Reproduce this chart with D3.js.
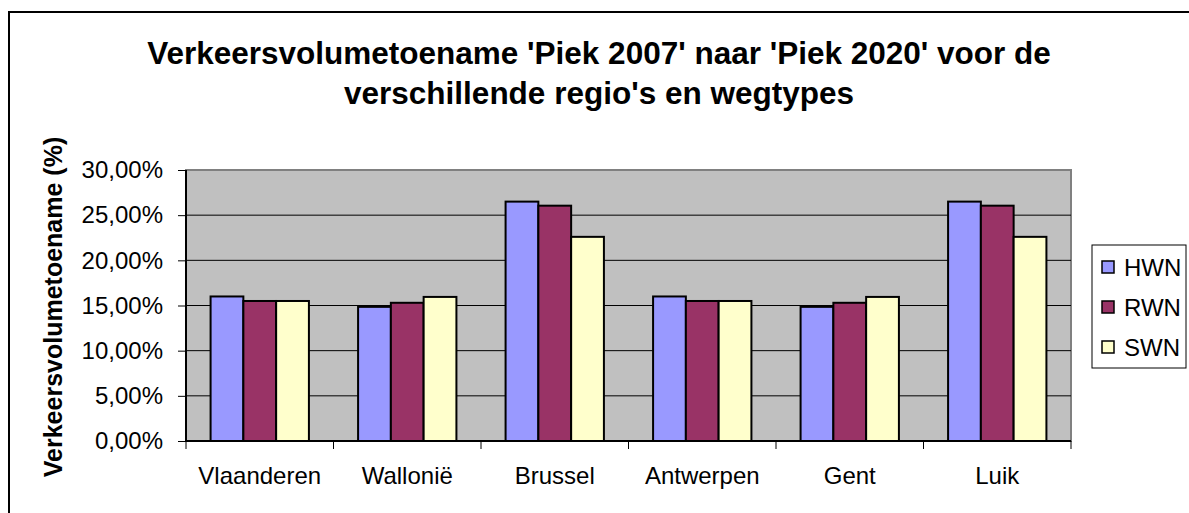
<!DOCTYPE html>
<html><head><meta charset="utf-8">
<script src="https://cdn.jsdelivr.net/npm/d3@7"></script>
<style>
html,body{margin:0;padding:0;background:#fff;}
svg{display:block;font-family:"Liberation Sans",Arial,sans-serif;}
</style></head>
<body>
<svg id="c" width="1189" height="513"></svg>
<script>
const categories = ["Vlaanderen","Wallonië","Brussel","Antwerpen","Gent","Luik"];
const seriesNames = ["HWN","RWN","SWN"];
const HWN = [16.0, 14.85, 26.5, 16.0, 14.85, 26.5];
const RWN = [15.5, 15.3, 26.05, 15.5, 15.3, 26.05];
const SWN = [15.5, 15.95, 22.6, 15.5, 15.95, 22.6];
const yTicks = [0,5,10,15,20,25,30];
const yTickLabels = ["0,00%","5,00%","10,00%","15,00%","20,00%","25,00%","30,00%"];
const colors = ["#9999FF","#993366","#FFFFCC"];
const titleLines = ["Verkeersvolumetoename 'Piek 2007' naar 'Piek 2020' voor de","verschillende regio's en wegtypes"];
const yTitle = "Verkeersvolumetoename (%)";

const seriesValues = [HWN,RWN,SWN];
const svg = d3.select("#c");

// chart area border
svg.append("rect").attr("x",9).attr("y",12).attr("width",1200).attr("height",520)
  .attr("fill","#fff").attr("stroke","#000").attr("stroke-width",2);

const L=186, R=1071, T=170, B=441;
const x = d3.scaleBand().domain(categories).range([L,R]).padding(0);
const xs = d3.scaleBand().domain(seriesNames).range([0,x.bandwidth()]).paddingInner(0).paddingOuter(0.75);
const y = d3.scaleLinear().domain([0,30]).range([B,T]);

// plot bg
svg.append("rect").attr("x",L).attr("y",T).attr("width",R-L).attr("height",B-T)
  .attr("fill","#C0C0C0").attr("stroke","#808080").attr("stroke-width",2);

// gridlines
svg.append("g").selectAll("line").data(yTicks.filter(d=>d>0&&d<30)).join("line")
  .attr("x1",L).attr("x2",R).attr("y1",d=>y(d)).attr("y2",d=>y(d))
  .attr("stroke","#000").attr("stroke-width",1);

// bars
const g = svg.append("g");
categories.forEach((c,i)=>{
  seriesNames.forEach((s,j)=>{
    const v = seriesValues[j][i];
    g.append("rect")
      .attr("x",x(c)+xs(s)).attr("width",xs.bandwidth())
      .attr("y",y(v)).attr("height",B-y(v))
      .attr("fill",colors[j]).attr("stroke","#000").attr("stroke-width",2);
  });
});

// y axis
const yAxis = d3.axisLeft(y).tickValues(yTicks).tickSize(8).tickPadding(15)
  .tickFormat((d,i)=>yTickLabels[i]);
const ya = svg.append("g").attr("transform",`translate(${L},0)`).call(yAxis);
ya.select(".domain").attr("stroke","#000").attr("stroke-width",2).attr("d",`M0,${T}V${B}`);
ya.selectAll(".tick line").attr("stroke","#000");
ya.selectAll("text").attr("font-size",24).attr("fill","#000").attr("font-family","Liberation Sans, Arial, sans-serif");

// x axis
const xb = d3.scaleOrdinal().domain(d3.range(categories.length+1)).range(d3.range(categories.length+1).map(i=>L+i*x.step()));
const xa = svg.append("g");
xa.append("line").attr("x1",L).attr("x2",R).attr("y1",B).attr("y2",B).attr("stroke","#000").attr("stroke-width",2);
xa.selectAll("line.t").data(d3.range(categories.length+1)).join("line").attr("class","t")
  .attr("x1",d=>xb(d)).attr("x2",d=>xb(d)).attr("y1",B).attr("y2",B+8).attr("stroke","#000");
xa.selectAll("text").data(categories).join("text")
  .attr("x",d=>x(d)+x.bandwidth()/2).attr("y",484).attr("text-anchor","middle")
  .attr("font-size",24).text(d=>d);

// title
svg.append("g").selectAll("text").data(titleLines).join("text")
  .attr("x",599).attr("y",(d,i)=>64+i*40).attr("text-anchor","middle")
  .attr("font-size",31.5).attr("font-weight","bold").text(d=>d);

// y title
svg.append("text").attr("transform","translate(62,307) rotate(-90)")
  .attr("text-anchor","middle").attr("font-size",25).attr("font-weight","bold").text(yTitle);

// legend
const lg = svg.append("g");
lg.append("rect").attr("x",1092).attr("y",245).attr("width",94).attr("height",123)
  .attr("fill","#fff").attr("stroke","#000").attr("stroke-width",1);
seriesNames.forEach((s,j)=>{
  const cy = 267 + j*40;
  lg.append("rect").attr("x",1102).attr("y",cy-6).attr("width",12).attr("height",12)
    .attr("fill",colors[j]).attr("stroke","#000").attr("stroke-width",1.5);
  lg.append("text").attr("x",1124).attr("y",cy+9).attr("font-size",24).text(s);
});
</script>
</body></html>
